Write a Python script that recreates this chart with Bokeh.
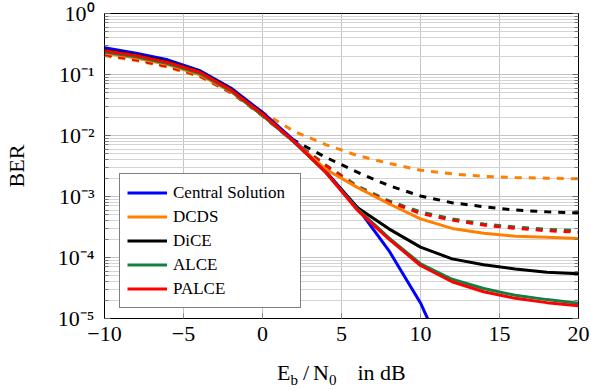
from bokeh.plotting import figure
from bokeh.layouts import column
from bokeh.models import (Range1d, FixedTicker, CustomJSTickFormatter, Legend,
                          LegendItem, LogAxis, Div)
from bokeh.embed import file_html
from bokeh.resources import INLINE

# ---------------- data ----------------
snr_db = [-10, -8, -6, -4, -2, 0, 2, 4, 6, 8, 10, 12, 14, 16, 18, 20]
snr_central = [-10, -8, -6, -4, -2, 0, 2, 4, 6, 8, 10, 12]

ber_central = [0.275, 0.224, 0.174, 0.117, 0.060, 0.024, 8.3e-3, 2.6e-3,
               6.6e-4, 1.3e-4, 1.8e-5, 1.3e-6]

ber_dcds = [0.224, 0.186, 0.145, 0.100, 0.0525, 0.0214, 7.9e-3, 2.8e-3,
            1.41e-3, 7.6e-4, 4.3e-4, 3.0e-4, 2.5e-4, 2.24e-4, 2.14e-4, 2.04e-4]
ber_dice = [0.251, 0.209, 0.162, 0.112, 0.0575, 0.0229, 7.9e-3, 2.5e-3,
            6.6e-4, 2.95e-4, 1.48e-4, 9.5e-5, 7.6e-5, 6.5e-5, 5.75e-5, 5.4e-5]
ber_alce = [0.234, 0.195, 0.151, 0.105, 0.054, 0.0214, 7.8e-3, 2.5e-3,
            6.3e-4, 2.1e-4, 7.9e-5, 4.4e-5, 3.1e-5, 2.4e-5, 2.04e-5, 1.78e-5]
ber_palce = [0.245, 0.204, 0.158, 0.110, 0.056, 0.0224, 7.9e-3, 2.5e-3,
             6.0e-4, 2.0e-4, 7.4e-5, 4.0e-5, 2.75e-5, 2.14e-5, 1.82e-5, 1.62e-5]

ber_dcds_d = [0.204, 0.170, 0.132, 0.093, 0.050, 0.024, 0.0117, 7.1e-3,
              4.7e-3, 3.5e-3, 2.7e-3, 2.35e-3, 2.14e-3, 2.04e-3, 2.0e-3, 1.95e-3]
ber_dice_d = [0.214, 0.178, 0.138, 0.098, 0.0525, 0.0219, 8.3e-3, 4.4e-3,
              2.5e-3, 1.51e-3, 1.02e-3, 7.9e-4, 6.8e-4, 6.0e-4, 5.6e-4, 5.4e-4]
ber_alce_d = [0.214, 0.178, 0.138, 0.098, 0.0525, 0.0214, 7.9e-3, 3.3e-3,
              1.48e-3, 8.5e-4, 5.6e-4, 4.3e-4, 3.55e-4, 3.16e-4, 2.9e-4, 2.75e-4]
ber_palce_d = [0.210, 0.175, 0.136, 0.096, 0.051, 0.021, 7.8e-3, 3.2e-3,
               1.42e-3, 8.1e-4, 5.3e-4, 4.1e-4, 3.4e-4, 3.0e-4, 2.75e-4, 2.6e-4]

legend_labels = ["Central Solution", "DCDS", "DiCE", "ALCE", "PALCE"]
x_ticks = [-10, -5, 0, 5, 10, 15, 20]
y_ticks = [1e-5, 1e-4, 1e-3, 1e-2, 1e-1, 1.0]

# ---------------- styling ----------------
BLUE = "#0000ff"
ORANGE = "#ff8000"
BLACK = "#000000"
GREEN = "#128040"
RED = "#ff0000"
SERIF = "Liberation Serif"

y_minor = [k * 10.0 ** e for e in range(-5, 0) for k in range(2, 10)]

p = figure(width=591, height=350, y_axis_type="log",
           x_range=Range1d(-10, 20), y_range=Range1d(1e-5, 1),
           output_backend="svg", toolbar_location=None,
           min_border_left=102, min_border_right=13,
           min_border_top=13, min_border_bottom=32,
           background_fill_color="white", border_fill_color="white")

p.outline_line_color = "black"
p.outline_line_width = 1

# grids
p.xgrid.ticker = FixedTicker(ticks=x_ticks)
p.xgrid.grid_line_color = "#c4c4c4"
p.xgrid.grid_line_width = 1
p.ygrid.ticker = FixedTicker(ticks=y_ticks, minor_ticks=y_minor)
p.ygrid.grid_line_color = "#c4c4c4"
p.ygrid.minor_grid_line_color = "#d4d4d4"
p.ygrid.minor_grid_line_width = 1

# x axis
xa = p.xaxis[0]
xa.ticker = FixedTicker(ticks=x_ticks)
xa.formatter = CustomJSTickFormatter(
    code="return tick < 0 ? '\u2212' + Math.abs(tick) : String(tick);")
xa.major_tick_in = 5
xa.major_tick_out = 0
xa.minor_tick_in = 0
xa.minor_tick_out = 0
xa.major_tick_line_color = "#888888"
xa.axis_line_color = "black"
xa.major_label_text_font = SERIF
xa.major_label_text_font_size = "22px"
xa.major_label_text_color = "black"
xa.major_label_standoff = 8

# y axis
sup_js = """
const sup = {'0':'\u2070','1':'\u00b9','2':'\u00b2','3':'\u00b3','4':'\u2074',
             '5':'\u2075','6':'\u2076','7':'\u2077','8':'\u2078','9':'\u2079','-':'\u207b'};
const e = Math.round(Math.log10(tick));
return '10' + String(e).split('').map(c => sup[c]).join('');
"""
ya = p.yaxis[0]
ya.ticker = FixedTicker(ticks=y_ticks, minor_ticks=y_minor)
ya.formatter = CustomJSTickFormatter(code=sup_js)
ya.major_tick_in = 6
ya.major_tick_out = 0
ya.minor_tick_in = 4
ya.minor_tick_out = 0
ya.major_tick_line_color = "#666666"
ya.minor_tick_line_color = "#777777"
ya.axis_line_color = "black"
ya.major_label_text_font = SERIF
ya.major_label_text_font_size = "22px"
ya.major_label_text_color = "black"
ya.major_label_standoff = 10
ya.axis_label = "BER"
ya.axis_label_text_font = SERIF
ya.axis_label_text_font_size = "22px"
ya.axis_label_text_font_style = "normal"
ya.axis_label_text_color = "black"
ya.axis_label_standoff = 26

# right axis with ticks only
ra = LogAxis(ticker=FixedTicker(ticks=y_ticks, minor_ticks=y_minor),
             formatter=CustomJSTickFormatter(code="return '';"),
             major_label_standoff=0,
             major_tick_in=6, major_tick_out=0, minor_tick_in=4, minor_tick_out=0,
             major_tick_line_color="#666666", minor_tick_line_color="#777777",
             axis_line_color="black")
p.add_layout(ra, "right")

# ---------------- curves ----------------
LW = 3
DASH = "7 7"
dashed = [(ber_dcds_d, ORANGE), (ber_dice_d, BLACK),
          (ber_alce_d, GREEN), (ber_palce_d, RED)]
for vals, col in dashed:
    p.line(snr_db, vals, line_color=col, line_width=LW, line_dash=DASH)

r_central = p.line(snr_central, ber_central, line_color=BLUE, line_width=LW)
r_dcds = p.line(snr_db, ber_dcds, line_color=ORANGE, line_width=LW)
r_dice = p.line(snr_db, ber_dice, line_color=BLACK, line_width=LW)
r_alce = p.line(snr_db, ber_alce, line_color=GREEN, line_width=LW)
r_palce = p.line(snr_db, ber_palce, line_color=RED, line_width=LW)

rends = [r_central, r_dcds, r_dice, r_alce, r_palce]
legend = Legend(items=[LegendItem(label=l, renderers=[r]) for l, r in zip(legend_labels, rends)],
                location=(15, 10), margin=0, padding=7, spacing=1,
                glyph_width=40, glyph_height=23, label_height=23, label_width=120,
                label_standoff=6,
                label_text_font=SERIF, label_text_font_size="17px",
                label_text_color="black",
                border_line_color="black", border_line_width=1,
                background_fill_color="white", background_fill_alpha=1)
p.add_layout(legend)

# ---------------- x axis label (with subscripts) as HTML ----------------
SUB = "font-size:15px; vertical-align:-5px;"
xlabel_html = (f'E<span style="{SUB}">b</span>'
               f'<span style="margin-left:5px">/</span>'
               f'<span style="margin-left:4px">N</span><span style="{SUB}">0</span>'
               f'<span style="margin-left:21px">in dB</span>')
xlabel = Div(text=xlabel_html, width=591, height=41,
             styles={"font-family": "'Liberation Serif', serif", "font-size": "22px",
                     "line-height": "1", "color": "black", "white-space": "nowrap",
                     "padding-top": "7px", "padding-left": "272px",
                     "box-sizing": "border-box", "background": "white"})

layout = column(p, xlabel, spacing=0)

with open("out.html", "w", encoding="utf-8") as f:
    f.write(file_html(layout, INLINE))
